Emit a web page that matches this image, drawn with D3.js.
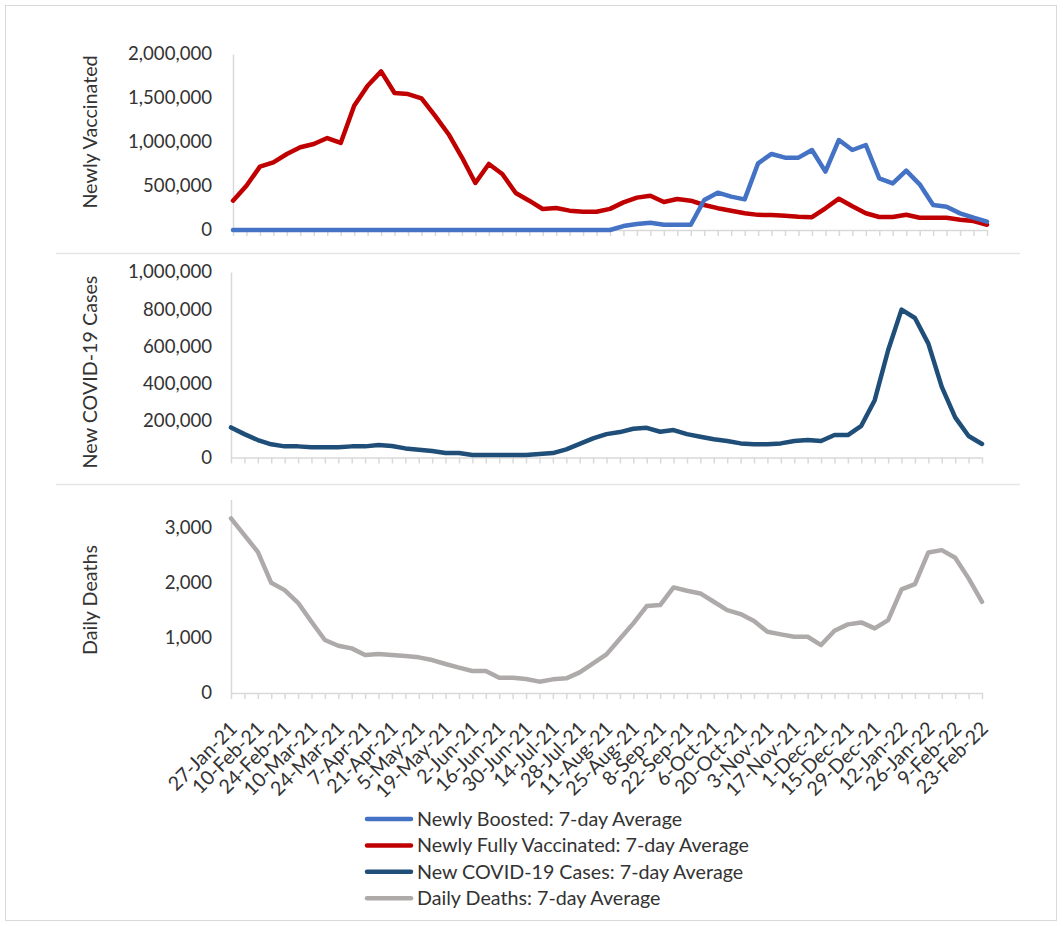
<!DOCTYPE html>
<html>
<head>
<meta charset="utf-8">
<script src="https://cdn.jsdelivr.net/npm/d3@7"></script>
<style>
    body { margin: 0; background: #fff; }
    svg text { font-family: Lato, "Open Sans", sans-serif; fill: #333; }
</style>
</head>
<body>
<div id="graph"></div>
<script>

var dates = [
    '27-Jan-21', '3-Feb-21', '10-Feb-21', '17-Feb-21', '24-Feb-21', '3-Mar-21', '10-Mar-21', '17-Mar-21',
    '24-Mar-21', '31-Mar-21', '7-Apr-21', '14-Apr-21', '21-Apr-21', '28-Apr-21', '5-May-21', '12-May-21',
    '19-May-21', '26-May-21', '2-Jun-21', '9-Jun-21', '16-Jun-21', '23-Jun-21', '30-Jun-21', '7-Jul-21',
    '14-Jul-21', '21-Jul-21', '28-Jul-21', '4-Aug-21', '11-Aug-21', '18-Aug-21', '25-Aug-21', '1-Sep-21',
    '8-Sep-21', '15-Sep-21', '22-Sep-21', '29-Sep-21', '6-Oct-21', '13-Oct-21', '20-Oct-21', '27-Oct-21',
    '3-Nov-21', '10-Nov-21', '17-Nov-21', '24-Nov-21', '1-Dec-21', '8-Dec-21', '15-Dec-21', '22-Dec-21',
    '29-Dec-21', '5-Jan-22', '12-Jan-22', '19-Jan-22', '26-Jan-22', '2-Feb-22', '9-Feb-22', '16-Feb-22',
    '23-Feb-22'
];

var boosted = [
    0, 0, 0, 0, 0, 0, 0, 0, 0, 0, 0, 0, 0, 0, 0, 0, 0, 0, 0, 0, 0, 0, 0, 0, 0, 0, 0, 0, 0,
    45000, 68000, 83000, 60000, 60000, 60000, 341000, 424000, 379000, 348000, 758000, 864000, 822000,
    822000, 909000, 663000, 1023000, 909000, 966000, 587000, 530000, 674000, 519000, 284000, 265000,
    189000, 140000, 95000
];

var fullyVaccinated = [
    333000, 503000, 720000, 769000, 864000, 940000, 977000, 1045000, 989000, 1413000, 1640000, 1803000,
    1557000, 1545000, 1496000, 1299000, 1091000, 826000, 534000, 750000, 636000, 420000, 333000, 239000,
    250000, 220000, 208000, 208000, 240000, 314000, 368000, 390000, 318000, 352000, 333000, 284000,
    248000, 218000, 190000, 172000, 170000, 161000, 150000, 146000, 247000, 356000, 269000, 190000,
    148000, 148000, 174000, 140000, 140000, 140000, 117000, 102000, 60000
];

var cases = [
    162000, 126000, 94000, 71000, 60000, 60000, 55000, 55000, 55000, 60000, 60000, 67000, 62000, 49000,
    42000, 35000, 24000, 24000, 13000, 13000, 13000, 13000, 13000, 19000, 24000, 44000, 73000, 103000,
    126000, 137000, 155000, 160000, 139000, 148000, 126000, 112000, 98000, 89000, 76000, 71000, 71000,
    76000, 89000, 94000, 89000, 121000, 121000, 171000, 309000, 578000, 797000, 752000, 614000, 381000,
    216000, 116000, 73000
];

var deaths = [
    3157, 2855, 2553, 1993, 1861, 1632, 1288, 958, 855, 807, 687, 705, 687, 669, 645, 596, 524, 458,
    398, 398, 277, 277, 253, 205, 247, 265, 373, 536, 699, 980, 1259, 1572, 1590, 1910, 1849, 1801,
    1650, 1500, 1428, 1301, 1108, 1060, 1017, 1017, 867, 1126, 1241, 1277, 1169, 1319, 1874, 1970,
    2542, 2584, 2445, 2073, 1650
];

var vaccTicks = [0, 500000, 1000000, 1500000, 2000000];
var caseTicks = [0, 200000, 400000, 600000, 800000, 1000000];
var deathTicks = [0, 1000, 2000, 3000];

var legendLabels = [
    'Newly Boosted: 7-day Average',
    'Newly Fully Vaccinated: 7-day Average',
    'New COVID-19 Cases: 7-day Average',
    'Daily Deaths: 7-day Average'
];

var width = 1063,
    height = 926,
    fontSize = 19.7,
    numberSize = 18.6,
    axisColor = '#d9d9d9';

var colors = {
    boosted: '#4472c4',
    vaccinated: '#c00000',
    cases: '#1f4e79',
    deaths: '#aeaaaa'
};

var svg = d3.select('#graph')
    .append('svg')
    .attr('width', width)
    .attr('height', height);

svg.append('rect')
    .attr('x', 5.5)
    .attr('y', 5.5)
    .attr('width', 1051)
    .attr('height', 915)
    .attr('fill', '#fff')
    .attr('stroke', axisColor);

// panel separators
[253.5, 484.5].forEach(function(y) {
    svg.append('line')
        .attr('x1', 56).attr('x2', 1020)
        .attr('y1', y).attr('y2', y)
        .attr('stroke', '#e6e6e6')
        .attr('stroke-width', 1.5);
});

var panels = [
    {
        title: 'Newly Vaccinated', titleY: 132, ticks: vaccTicks, max: 2000000,
        left: 233, right: 987, top: 54, bottom: 230,
        series: [
            { values: fullyVaccinated, color: colors.vaccinated },
            { values: boosted, color: colors.boosted }
        ]
    },
    {
        title: 'New COVID-19 Cases', titleY: 372, ticks: caseTicks, max: 1000000,
        left: 231, right: 982, top: 272, bottom: 457.5,
        series: [{ values: cases, color: colors.cases }]
    },
    {
        title: 'Daily Deaths', titleY: 600, ticks: deathTicks, max: 3500,
        left: 231, right: 982, top: 499.5, bottom: 693,
        series: [{ values: deaths, color: colors.deaths }],
        labels: true
    }
];

panels.forEach(function(p) {
    var g = svg.append('g');

    var x = d3.scalePoint()
        .domain(dates)
        .range([p.left, p.right]);

    var y = d3.scaleLinear()
        .domain([0, p.max])
        .range([p.bottom, p.top]);

    // y axis
    var yAxis = g.append('g')
        .attr('transform', 'translate(' + p.left + ',0)')
        .call(d3.axisLeft(y)
            .tickValues(p.ticks)
            .tickSize(0)
            .tickPadding(p.left - 212)
            .tickFormat(d3.format(',')));
    yAxis.select('.domain').attr('stroke', axisColor).attr('stroke-width', 1.5);
    yAxis.selectAll('text')
        .style('font-size', numberSize + 'px')
        .attr('fill', '#333');

    // x axis, labels only on the bottom panel, every second week
    var xAxis = g.append('g')
        .attr('transform', 'translate(0,' + p.bottom + ')')
        .call(d3.axisBottom(x)
            .tickSize(6)
            .tickSizeOuter(0)
            .tickFormat(function(d, i) {
                return p.labels && i % 2 === 0 ? d : '';
            }));
    xAxis.select('.domain').attr('stroke', axisColor).attr('stroke-width', 1.5);
    xAxis.selectAll('.tick line').attr('stroke', axisColor).attr('stroke-width', 1.5);
    xAxis.selectAll('text')
        .style('font-size', fontSize + 'px')
        .attr('fill', '#333')
        .attr('x', 0)
        .attr('y', 0)
        .attr('dy', '0.35em')
        .attr('text-anchor', 'end')
        .attr('transform', 'translate(2,32) rotate(-45)');

    g.append('text')
        .attr('transform', 'translate(90,' + p.titleY + ') rotate(-90)')
        .attr('text-anchor', 'middle')
        .attr('dy', '0.35em')
        .style('font-size', fontSize + 'px')
        .text(p.title);

    var line = d3.line()
        .x(function(d, i) { return x(dates[i]); })
        .y(function(d) { return y(d); });

    p.series.forEach(function(s) {
        g.append('path')
            .datum(s.values)
            .attr('d', line)
            .attr('fill', 'none')
            .attr('stroke', s.color)
            .attr('stroke-width', 4.5)
            .attr('stroke-linejoin', 'round')
            .attr('stroke-linecap', 'round');
    });
});

// legend
var legendColors = [colors.boosted, colors.vaccinated, colors.cases, colors.deaths];

var legend = svg.selectAll('.legendEntry')
    .data(legendLabels)
    .enter()
    .append('g')
    .attr('class', 'legendEntry')
    .attr('transform', function(d, i) {
        return 'translate(367,' + (819 + i * 26.4) + ')';
    });

legend.append('line')
    .attr('x1', 0)
    .attr('x2', 44)
    .attr('stroke', function(d, i) { return legendColors[i]; })
    .attr('stroke-width', 4.5)
    .attr('stroke-linecap', 'round');

legend.append('text')
    .attr('x', 50)
    .attr('dy', '0.35em')
    .style('font-size', fontSize + 'px')
    .text(function(d) { return d; });

</script>
</body>
</html>
